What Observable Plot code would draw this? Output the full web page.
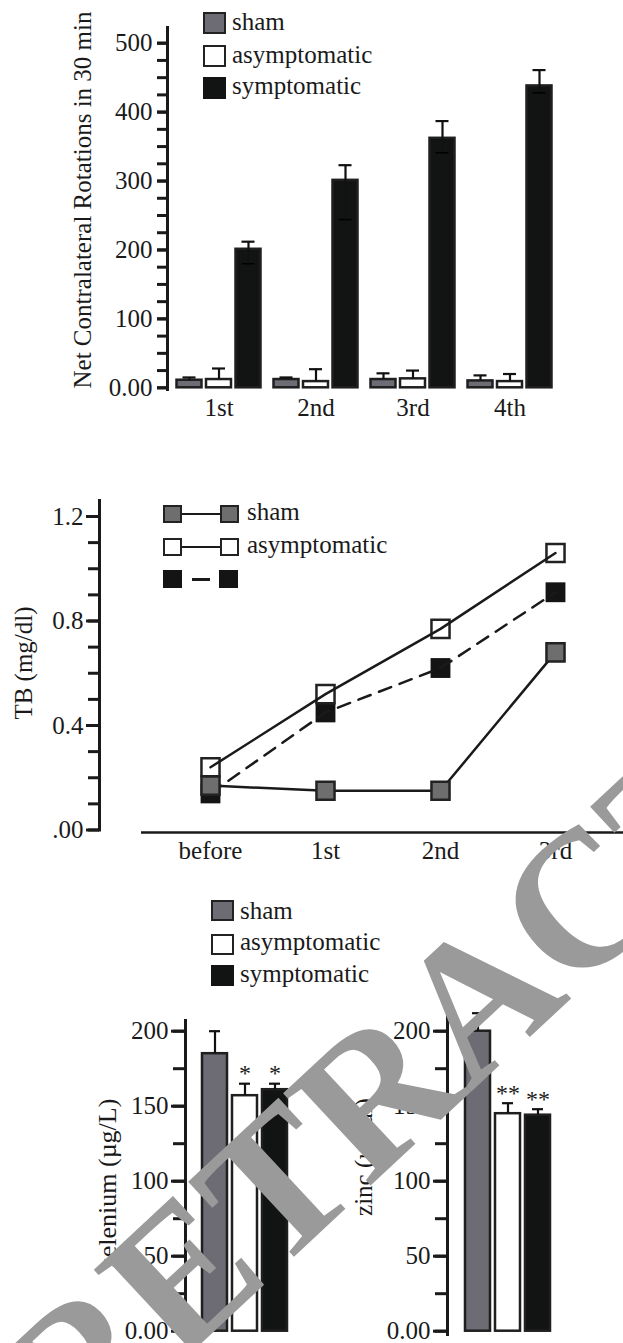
<!DOCTYPE html>
<html><head><meta charset="utf-8">
<script src="https://cdn.jsdelivr.net/npm/d3@7"></script>
<script src="https://cdn.jsdelivr.net/npm/@observablehq/plot@0.6"></script>
<style>
html,body{margin:0;padding:0;background:#fff;}
#root{position:relative;width:623px;height:1343px;overflow:hidden;font-family:"Liberation Serif","Times New Roman",serif;color:#1a1a1a;}
#root svg{position:absolute;left:0;top:0;}
.lab{position:absolute;white-space:nowrap;line-height:1;}
.vlab{position:absolute;white-space:nowrap;line-height:1;transform:translate(-50%,-50%) rotate(-90deg);}
.box{position:absolute;box-sizing:border-box;}
.wm{position:absolute;white-space:nowrap;line-height:1;transform-origin:0 0;color:#9a9a9a;font-family:"Liberation Serif","Times New Roman",serif;font-weight:bold;}
</style></head><body><div id="root"></div>
<script>
// ---------------- data ----------------
const seriesNames = ["sham", "asymptomatic", "symptomatic"];

// Panel A: net contralateral rotations in 30 min
const rotGroups = ["1st", "2nd", "3rd", "4th"];
const rotShamMean = [11, 12, 12, 10];
const rotShamHigh = [15, 15, 21, 18];
const rotAsymMean = [12, 9, 13, 9];
const rotAsymHigh = [28, 27, 25, 20];
const rotSympMean = [201, 301, 362, 438];
const rotSympHigh = [212, 323, 387, 461];
const rotSympLow = [180, 244, 341, 428];
const rotTicksMajor = [0, 100, 200, 300, 400, 500];

// Panel B: TB (mg/dl)
const tbTimes = ["before", "1st", "2nd", "3rd"];
const tbSham = [0.17, 0.15, 0.15, 0.68];
const tbAsym = [0.24, 0.52, 0.77, 1.06];
const tbSymp = [0.14, 0.45, 0.62, 0.91];
const tbTicksMajor = [0, 0.4, 0.8, 1.2];

// Panel C: selenium and zinc
const seleniumMean = [185, 157, 161];
const seleniumHigh = [200, 165, 165];
const seleniumStars = ["", "*", "*"];
const zincMean = [200, 145, 144];
const zincHigh = [212, 152, 148];
const zincStars = ["", "**", "**"];
const minTicksMajor = [0, 50, 100, 150, 200];

// ---------------- helpers ----------------
const root = document.getElementById("root");
const W = 623, H = 1343;
const FONT = '"Liberation Serif","Times New Roman",serif';
const INK = "#1a1a1a";
const svgStyle = {background: "transparent", fontFamily: FONT, fontSize: "25px", color: INK, overflow: "visible"};
const barFill = {sham: "#6d6b74", asymptomatic: "#ffffff", symptomatic: "#121413"};

function label(text, left, cy, size) {
  const d = document.createElement("div");
  d.className = "lab";
  d.textContent = text;
  d.style.left = left + "px";
  d.style.top = (cy - size * 0.56) + "px";
  d.style.fontSize = size + "px";
  root.appendChild(d);
}
function vlabel(text, cx, cy, size) {
  const d = document.createElement("div");
  d.className = "vlab";
  d.textContent = text;
  d.style.left = cx + "px";
  d.style.top = cy + "px";
  d.style.fontSize = size + "px";
  root.appendChild(d);
}
function box(left, top, w, h, fill, border) {
  const d = document.createElement("div");
  d.className = "box";
  Object.assign(d.style, {left: left + "px", top: top + "px", width: w + "px", height: h + "px", background: fill,
    border: border ? "2.5px solid #222" : "none"});
  root.appendChild(d);
}
function hline(left, top, w, thick) {
  const d = document.createElement("div");
  d.className = "box";
  Object.assign(d.style, {left: left + "px", top: top + "px", width: w + "px", height: thick + "px", background: "#1a1a1a"});
  root.appendChild(d);
}
function errorBars(rows, shift, inset) {
  const marks = [];
  for (const s of seriesNames) {
    const d = rows.filter(r => r.series === s);
    marks.push(Plot.barY(d, {x: "group", y: "mean", fill: barFill[s], stroke: "#1f1f1f", strokeWidth: 2.5, dx: shift[s]}));
    marks.push(Plot.ruleX(d, {x: "group", y1: "lo", y2: "hi", dx: shift[s], stroke: "#111", strokeWidth: 2.2}));
    marks.push(Plot.tickY(d, {x: "group", y: "hi", dx: shift[s], insetLeft: inset, insetRight: inset, stroke: "#111", strokeWidth: 2.2}));
    marks.push(Plot.tickY(d.filter(r => r.lo < r.mean), {x: "group", y: "lo", dx: shift[s], insetLeft: inset, insetRight: inset, stroke: "#000", strokeWidth: 1.5}));
  }
  return marks;
}

// ---------------- Panel A ----------------
const rotRows = rotGroups.flatMap((g, i) => [
  {group: g, series: "sham", mean: rotShamMean[i], lo: rotShamMean[i], hi: rotShamHigh[i]},
  {group: g, series: "asymptomatic", mean: rotAsymMean[i], lo: rotAsymMean[i], hi: rotAsymHigh[i]},
  {group: g, series: "symptomatic", mean: rotSympMean[i], lo: rotSympLow[i], hi: rotSympHigh[i]}
]);
const p1 = Plot.plot({
  width: W, height: H, marginLeft: 167, marginTop: 27, marginBottom: H - 389, marginRight: 0,
  style: svgStyle,
  x: {type: "band", domain: rotGroups, range: [206.25, 524.75], paddingInner: 0.739, paddingOuter: 0, align: 0, label: null},
  y: {domain: [0, 500], range: [387.3, 42.7], label: null},
  marks: [
    Plot.frame({anchor: "left", stroke: INK, strokeWidth: 3}),
    Plot.axisY(d3.range(0, 501, 25), {tickSize: 10, tickFormat: () => "", stroke: INK, strokeWidth: 3, label: null}),
    Plot.axisY(rotTicksMajor, {tickSize: 10, tickPadding: 5, stroke: INK, strokeWidth: 3, fontSize: 25,
      tickFormat: d => d === 0 ? "0.00" : String(d), label: null}),
    Plot.axisX({tickSize: 0, tickPadding: 9, fontSize: 25, label: null}),
    ...errorBars(rotRows, {sham: -29.5, asymptomatic: 0, symptomatic: 29.5}, 6)
  ]
});
root.appendChild(p1);
vlabel("Net Contralateral Rotations in 30 min", 82, 200, 25);
box(203, 11.5, 23, 22, barFill.sham, true);
box(203, 45, 23, 22, barFill.asymptomatic, true);
box(203, 76.5, 23, 22, barFill.symptomatic, false);
label("sham", 232, 23, 25);
label("asymptomatic", 232, 56, 25);
label("symptomatic", 232, 87, 25);

// ---------------- Panel B ----------------
const tbRows = tbTimes.flatMap((t, i) => [
  {time: t, series: "sham", value: tbSham[i]},
  {time: t, series: "asymptomatic", value: tbAsym[i]},
  {time: t, series: "symptomatic", value: tbSymp[i]}
]);
const bySeries = s => tbRows.filter(r => r.series === s);
const p2 = Plot.plot({
  width: W, height: H, marginLeft: 99, marginTop: 500, marginBottom: H - 829.5, marginRight: 0,
  style: svgStyle,
  x: {type: "point", domain: tbTimes, range: [151, 613], label: null},
  y: {domain: [0, 1.2], range: [829.5, 516], label: null},
  marks: [
    Plot.frame({anchor: "left", stroke: INK, strokeWidth: 3}),
    Plot.ruleY([0], {insetLeft: 42, dy: 2.5, stroke: INK, strokeWidth: 2.5}),
    Plot.axisY(d3.range(0, 13).map(i => i / 10), {tickSize: 11, tickFormat: () => "", stroke: INK, strokeWidth: 3, label: null}),
    Plot.axisY(tbTicksMajor, {tickSize: 13, tickPadding: 3, stroke: INK, strokeWidth: 3, fontSize: 25,
      tickFormat: d => d === 0 ? ".00" : d3.format(".1f")(d), label: null}),
    Plot.axisX({tickSize: 0, tickPadding: 11, fontSize: 25, label: null}),
    Plot.dot(bySeries("symptomatic"), {x: "time", y: "value", symbol: "square", r: 11.2, fill: "#141414"}),
    Plot.line(bySeries("symptomatic"), {x: "time", y: "value", stroke: INK, strokeWidth: 2.5, strokeDasharray: "13,9"}),
    Plot.dot(bySeries("asymptomatic"), {x: "time", y: "value", symbol: "square", r: 10.2, fill: "#fff", stroke: "#222", strokeWidth: 2.5}),
    Plot.line(bySeries("asymptomatic"), {x: "time", y: "value", stroke: INK, strokeWidth: 2.5}),
    Plot.line(bySeries("sham"), {x: "time", y: "value", stroke: INK, strokeWidth: 2.5}),
    Plot.dot(bySeries("sham"), {x: "time", y: "value", symbol: "square", r: 10.2, fill: "#6e6e6e", stroke: "#222", strokeWidth: 2.5})
  ]
});
root.appendChild(p2);
vlabel("TB (mg/dl)", 23, 663, 25);
// legend B
box(163, 505, 19, 18, "#6e6e6e", true); hline(182, 512.5, 38, 2.5); box(220, 505, 19, 18, "#6e6e6e", true);
box(163, 538, 19, 18, "#fff", true); hline(182, 545.5, 38, 2.5); box(220, 538, 19, 18, "#fff", true);
box(163, 570, 19, 18, "#141414", false); hline(192, 578, 18, 2.5); box(219, 570, 19, 18, "#141414", false);
label("sham", 247, 513, 25);
label("asymptomatic", 247, 546, 25);

// ---------------- Panel C ----------------
const selRows = seriesNames.map((s, i) => ({group: s, series: s, mean: seleniumMean[i], lo: seleniumMean[i], hi: seleniumHigh[i], star: seleniumStars[i]}));
const znRows = seriesNames.map((s, i) => ({group: s, series: s, mean: zincMean[i], lo: zincMean[i], hi: zincHigh[i], star: zincStars[i]}));
const noShift = {sham: 0, asymptomatic: 0, symptomatic: 0};
function mineralPlot(rows, left, top, xRange, padIn) {
  return Plot.plot({
    width: W, height: H, marginLeft: left, marginTop: top, marginBottom: H - 1334, marginRight: 0,
    style: svgStyle,
    x: {type: "band", domain: seriesNames, range: xRange, paddingInner: padIn, paddingOuter: 0, align: 0, axis: null},
    y: {domain: [0, 200], range: [1330.7, 1030.7], label: null},
    marks: [
      Plot.frame({anchor: "left", stroke: INK, strokeWidth: 3}),
      Plot.axisY(d3.range(0, 201, 25), {tickSize: 12, tickFormat: () => "", stroke: INK, strokeWidth: 3, label: null}),
      Plot.axisY(minTicksMajor, {tickSize: 14, tickPadding: 3, stroke: INK, strokeWidth: 3, fontSize: 25,
        tickFormat: d => d === 0 ? "0.00" : String(d), label: null}),
      ...errorBars(rows, noShift, 7),
      Plot.text(rows, {x: "group", y: "hi", text: "star", dy: -10, fontSize: 24, fill: INK})
    ]
  });
}
root.appendChild(mineralPlot(selRows, 185, 1020, [202.25, 289.2], 0.169));
root.appendChild(mineralPlot(znRows, 447, 1003, [465.25, 552.2], 0.157));
vlabel("selenium (\u00b5g/L)", 108, 1183, 26);
vlabel("zinc (\u00b5g/dl)", 363, 1157, 25);
box(211, 900, 23, 21, barFill.sham, true);
box(211, 933.5, 23, 21, barFill.asymptomatic, true);
box(211, 965, 23, 21, barFill.symptomatic, false);
label("sham", 240, 911.5, 25);
label("asymptomatic", 240, 943, 25);
label("symptomatic", 240, 975, 25);

// ---------------- watermark ----------------
const wm = document.createElement("div");
wm.className = "wm";
wm.textContent = "RETRACTED";
Object.assign(wm.style, {left: "-35.5px", top: "1341.5px", fontSize: "194px", transform: "rotate(-43deg)"});
root.appendChild(wm);
</script></body></html>
